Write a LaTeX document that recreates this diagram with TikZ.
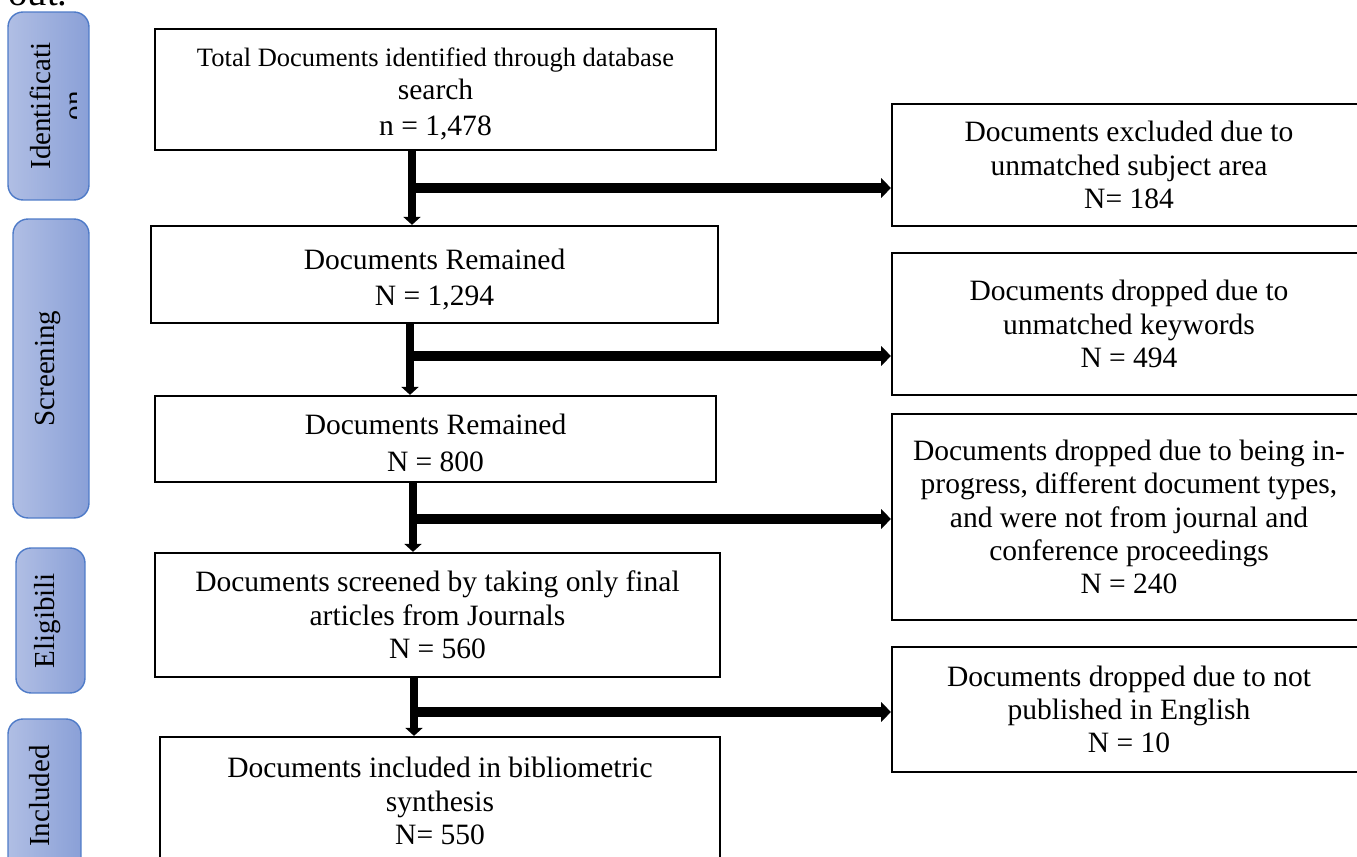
\documentclass[tikz,border=0pt]{standalone}
\usepackage{fontspec}
\setmainfont{Liberation Serif}
\usetikzlibrary{arrows.meta}
\definecolor{tablight}{HTML}{B0BEE4}
\definecolor{tabdark}{HTML}{8AA0D7}
\definecolor{tabline}{HTML}{4F7BC8}

\tikzstyle{stagebox}=[draw, line width=1.3pt, align=center, inner sep=0pt, font=\fontsize{16.8}{19}\selectfont]
\tikzstyle{sidebox}=[stagebox, minimum width=9.48cm]
\tikzstyle{tab}=[draw=tabline, line width=0.8pt, rounded corners=0.3cm, left color=tablight, right color=tabdark, inner sep=0pt]
\tikzstyle{tablabel}=[rotate=90, align=center, inner sep=0pt, font=\fontsize{16.5}{19}\selectfont]
\tikzstyle{dep}=[-{Triangle[width=9.6pt,length=4.5pt]}, line width=4pt]
\tikzstyle{exdep}=[-{Triangle[width=11pt,length=5.5pt]}, line width=5.6pt]

\begin{document}
\begin{tikzpicture}[x=0.02cm, y=-0.02cm]
      \useasboundingbox (0,0) rectangle (1357,857);
      \clip (0,0) rectangle (1357,857);
      \node[anchor=base west, inner sep=0pt, font=\fontsize{22}{26}\selectfont] (prevtext) at (8,6) {out.};

      % stage tabs
      \node[tab, minimum width=1.62cm, minimum height=3.76cm] (idtab) at (48.5,106) {};
      \node[tab, minimum width=1.52cm, minimum height=5.98cm] (scrtab) at (51,368.5) {};
      \node[tab, minimum width=1.38cm, minimum height=2.9cm] (eltab) at (50.5,620.5) {};
      \node[tab, minimum width=1.46cm, minimum height=3.08cm] (inctab) at (44.5,796) {};
      \begin{scope}
        \clip (0,0) rectangle (76,210);
        \node[tablabel] (idlabel) at (57,106) {Identificati\\on};
      \end{scope}
      \node[tablabel] (scrlabel) at (48,368.5) {Screening};
      \node[tablabel] (ellabel) at (47.5,620.5) {Eligibili};
      \node[tablabel] (inclabel) at (40,796) {Included};

      % main column
      \node[stagebox, minimum width=11.22cm, minimum height=2.42cm] (b1) at (435.5,89.5)
        {\fontsize{15.1}{19}\selectfont\rule{0pt}{15.5pt}Total Documents identified through database\\search\\[1pt]\fontsize{16.8}{19}\selectfont n = 1,478};
      \node[stagebox, minimum width=11.34cm, minimum height=1.94cm] (b2) at (434.5,274.5)
        {\rule{0pt}{17.4pt}Documents Remained\\[2pt]N = 1,294};
      \node[stagebox, minimum width=11.22cm, minimum height=1.72cm] (b3) at (435.5,439)
        {\rule{0pt}{16.2pt}Documents Remained\\[2pt]N = 800};
      \node[stagebox, minimum width=11.3cm, minimum height=2.48cm] (b4) at (437.5,615)
        {Documents screened by taking only final\\articles from Journals\\N = 560};
      \node[stagebox, minimum width=11.2cm, minimum height=2.56cm] (b5) at (440,801)
        {Documents included in bibliometric\\synthesis\\N= 550};

      % excluded column
      \node[sidebox, minimum height=2.44cm] (r1) at (1129,165)
        {Documents excluded due to\\unmatched subject area\\N= 184};
      \node[sidebox, minimum height=2.84cm] (r2) at (1129,324)
        {Documents dropped due to\\unmatched keywords\\N = 494};
      \node[sidebox, minimum height=4.12cm] (r3) at (1129,517)
        {Documents dropped due to being in-\\progress, different document types,\\and were not from journal and\\conference proceedings\\N = 240};
      \node[sidebox, minimum height=2.5cm] (r4) at (1129,709.5)
        {Documents dropped due to not\\published in English\\N = 10};

      \coordinate (j1) at (412,188);
      \coordinate (j2) at (410,356);
      \coordinate (j3) at (413,519);
      \coordinate (j4) at (414,712);
      \draw[exdep] (j1) -- (j1 -| r1.west);
      \draw[exdep] (j2) -- (j2 -| r2.west);
      \draw[exdep] (j3) -- (j3 -| r3.west);
      \draw[exdep] (j4) -- (j4 -| r4.west);
      \draw[dep] (j1 |- b1.south) -- (j1 |- b2.north);
      \draw[dep] (j2 |- b2.south) -- (j2 |- b3.north);
      \draw[dep] (j3 |- b3.south) -- (j3 |- b4.north);
      \draw[dep] (j4 |- b4.south) -- (j4 |- b5.north);
\end{tikzpicture}
\end{document}
